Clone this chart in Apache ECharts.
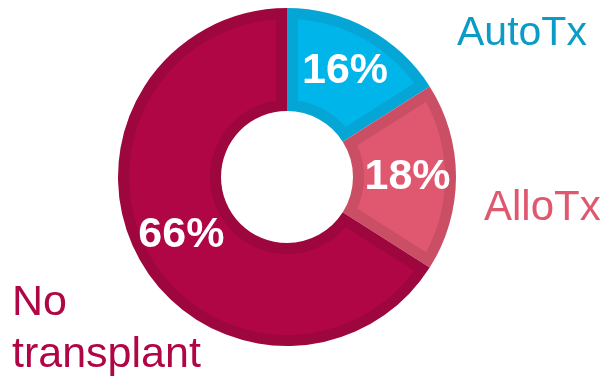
<!DOCTYPE html>
<html>
<head>
<meta charset="utf-8">
<script src="https://cdn.jsdelivr.net/npm/echarts@6/dist/echarts.min.js"></script>
<style>
  html, body { margin: 0; padding: 0; background: #ffffff; }
  #chart { width: 611px; height: 378px; }
</style>
</head>
<body>
<div id="chart"></div>
<script>
// Transplant status shares (%)
const categories = ['AutoTx', 'AlloTx', 'No transplant'];
const shares = [16, 18, 66];

// Slice fill colours and their darker rim colours
const fillColors = ['#00b5ea', '#e05870', '#b00645'];
const rimColors  = ['#05a6d5', '#cb4f64', '#9e063e'];
const labelColors = ['#0a9bc6', '#e05870', '#b00645'];

const CENTER = [287, 177];
const R_OUT = 169, R_IN = 66, RIM = 11;
const FONT = '"Liberation Sans", Arial, sans-serif';

// cumulative start/end of each slice on a 0..100 angle scale
const spans = [];
let acc = 0;
shares.forEach((v, i) => { spans.push([acc, acc + v, i]); acc += v; });

const chart = echarts.init(document.getElementById('chart'));

// inner (lighter) panel of a slice: inset by RIM on every side
function renderPanel(params, api) {
  const s = api.value(0), e = api.value(1), idx = api.value(2);
  const ro = R_OUT - RIM, ri = R_IN + RIM;
  const pct = rad => rad * 180 / Math.PI / 3.6;
  const dOut = pct(Math.asin(RIM / ro));
  const dIn = pct(Math.asin(RIM / ri));
  const pts = [];
  const n = 60;
  const a0 = s + dOut, a1 = e - dOut;
  for (let k = 0; k <= n; k++) pts.push(api.coord([ro, a0 + (a1 - a0) * k / n]));
  const b0 = e - dIn, b1 = s + dIn;
  for (let k = 0; k <= n; k++) pts.push(api.coord([ri, b0 + (b1 - b0) * k / n]));
  return {
    type: 'polygon',
    shape: { points: pts },
    style: { fill: fillColors[idx] }
  };
}

chart.setOption({
  animation: false,
  backgroundColor: '#ffffff',
  polar: { center: CENTER, radius: R_OUT },
  angleAxis: { type: 'value', min: 0, max: 100, startAngle: 90, clockwise: true, show: false },
  radiusAxis: { type: 'value', min: 0, max: R_OUT, show: false },
  series: [
    {
      // dark rim layer: full ring
      type: 'pie',
      center: CENTER,
      radius: [R_IN, R_OUT],
      startAngle: 90,
      clockwise: true,
      silent: true,
      z: 1,
      label: { show: false },
      labelLine: { show: false },
      data: categories.map((c, i) => ({ name: c, value: shares[i], itemStyle: { color: rimColors[i] } }))
    },
    {
      type: 'custom',
      coordinateSystem: 'polar',
      z: 2,
      silent: true,
      renderItem: renderPanel,
      data: spans
    },
    {
      // value labels on each slice
      type: 'pie',
      center: CENTER,
      radius: [R_IN, R_OUT],
      startAngle: 90,
      clockwise: true,
      silent: true,
      z: 5,
      itemStyle: { color: 'rgba(0,0,0,0)' },
      label: {
        show: true,
        position: 'inside',
        formatter: '{c}%',
        color: '#ffffff',
        fontSize: 43,
        fontWeight: 'bold',
        fontFamily: FONT
      },
      labelLine: { show: false },
      data: categories.map((c, i) => ({ name: c, value: shares[i] }))
    }
  ],
  graphic: [
    {
      type: 'text', x: 457, y: 34,
      style: { text: categories[0], fill: labelColors[0], font: '41px ' + FONT, textAlign: 'left', textVerticalAlign: 'middle' }
    },
    {
      type: 'text', x: 484, y: 208,
      style: { text: categories[1], fill: labelColors[1], font: '42px ' + FONT, textAlign: 'left', textVerticalAlign: 'middle' }
    },
    {
      type: 'text', x: 12, y: 329,
      style: { text: 'No\ntransplant', fill: labelColors[2], font: '43px ' + FONT, lineHeight: 52, textAlign: 'left', textVerticalAlign: 'middle' }
    }
  ]
});
</script>
</body>
</html>
